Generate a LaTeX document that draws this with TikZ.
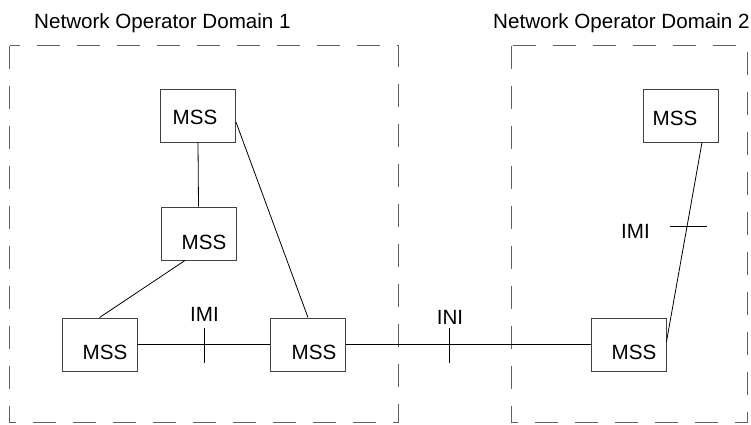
\documentclass[tikz,border=0pt]{standalone}
\usepackage{fontspec}
\setmainfont{Liberation Sans}
\usetikzlibrary{calc}
\begin{document}
\begin{tikzpicture}[x=1pt,y=-1pt,
  every node/.style={font=\fontsize{20.6}{24}\selectfont},
  domainbox/.style={draw=black!62, line width=1pt, dash pattern=on 23pt off 17pt},
  mssbox/.style={draw=black!75, line width=0.9pt, minimum width=75pt, minimum height=53pt, inner sep=0pt},
  msstext/.style={inner sep=0pt, anchor=center},
  link/.style={draw=black, line width=0.8pt},
  tick/.style={draw=black, line width=0.8pt},
  title/.style={inner sep=0pt, anchor=base west}]
\useasboundingbox (0,0) rectangle (751,424);

% operator domains
\draw[domainbox] (9.5,45.5) rectangle (398,422);
\draw[domainbox] (511,45.5) rectangle (747,422);
\node[title] (t1) at (34,28) {Network Operator Domain 1};
\node[title] (t2) at (493,28) {Network Operator Domain 2};

% MSS boxes
\node[mssbox] (m1) at (198,115.5) {};
\node[mssbox] (m2) at (198.5,233.5) {};
\node[mssbox] (m3) at (99.5,344.5) {};
\node[mssbox] (m4) at (308,344.5) {};
\node[mssbox] (m5) at (628.5,344.5) {};
\node[mssbox] (m6) at (681,115.5) {};

\node[msstext] (l1) at (195,117) {MSS};
\node[msstext] (l2) at (204,242) {MSS};
\node[msstext] (l3) at (105,352.5) {MSS};
\node[msstext] (l4) at (314,352.5) {MSS};
\node[msstext] (l5) at (634,352.5) {MSS};
\node[msstext] (l6) at (675,118) {MSS};

% links
\draw[link] (m1.south) -- (m2.north);
\draw[link] ($(m1.north east)!0.62!(m1.south east)$) -- (m4.north);
\draw[link] ($(m2.south)+(-13.5,0)$) -- (m3.north);
\draw[link] (m3.east) -- (m4.east -| m4.west);
\draw[link] (m4.east) -- (m5.west);
\draw[link] ($(m6.south)+(21,0)$) -- ($(m5.north east)!0.45!(m5.south east)$);

% interface ticks and labels
\coordinate (k1) at (204.3,345.5);
\coordinate (k2) at (449.3,345.5);
\coordinate (k3) at (688.5,226.3);
\draw[tick] ($(k1)+(0,-17.5)$) -- ($(k1)+(0,17.5)$);
\draw[tick] ($(k2)+(0,-17.5)$) -- ($(k2)+(0,17.5)$);
\draw[tick] ($(k3)+(-18.5,0)$) -- ($(k3)+(18.5,0)$);
\node[msstext] (imi1) at (204.5,314) {IMI};
\node[msstext] (ini) at (450,317.5) {INI};
\node[msstext] (imi2) at (635.5,231) {IMI};
\end{tikzpicture}
\end{document}
